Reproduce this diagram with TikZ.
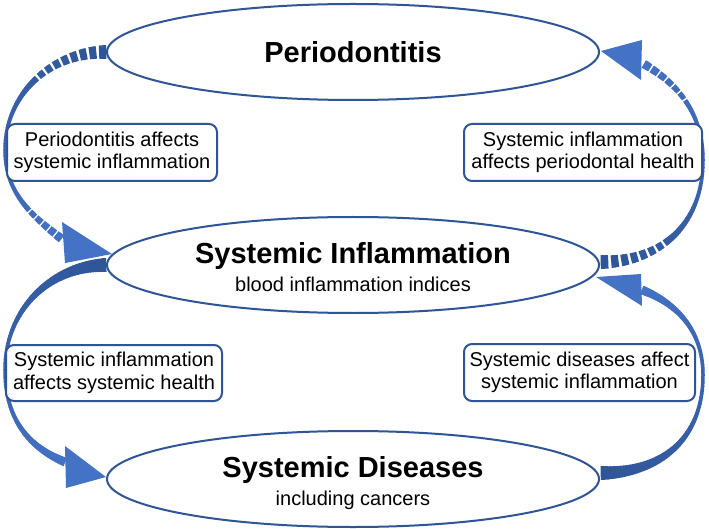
\documentclass[tikz,border=0pt]{standalone}
\usepackage{fontspec}
\setmainfont{Liberation Sans}
\usetikzlibrary{shapes.geometric,calc}
\definecolor{edgeblue}{RGB}{47,85,151}
\definecolor{adark}{RGB}{47,85,151}
\definecolor{alight}{RGB}{68,114,196}
\pgfdeclarelayer{paperlayer}
\pgfdeclarelayer{arrowlayer}
\pgfsetlayers{paperlayer,arrowlayer,main}

% tapered, colour-graded curved arrow along two cubic pieces
% #1 prefix, #2 dashes while k<#2, #3 dashes while k>=#3
\newcommand\taperarrow[3]{%
  \foreach \k in {0,...,50}{%
    \pgfmathsetmacro\tpos{\k/50}%
    \path (#1a0) .. controls (#1a1) and (#1a2) .. (#1m) coordinate[pos=\tpos] (#1s\k);%
  }%
  \foreach \k in {1,...,50}{%
    \pgfmathsetmacro\tpos{\k/50}%
    \pgfmathtruncatemacro\kk{\k+50}%
    \path (#1m) .. controls (#1b1) and (#1b2) .. (#1e) coordinate[pos=\tpos] (#1s\kk);%
  }%
  \foreach \k in {0,...,99}{%
    \pgfmathtruncatemacro\kn{\k+1}%
    \pgfmathsetmacro\tpar{(\k+0.5)/100}%
    \pgfmathsetmacro\wid{\tpar<0.5 ? 3.5+10.5*(1-2*\tpar)^2 : 3.5+5.5*(2*\tpar-1)^2}%
    \pgfmathtruncatemacro\mixp{100*(1-\tpar)}%
    \pgfmathtruncatemacro\dashon{ifthenelse(\k<#2, mod(\k,3)<2, ifthenelse(\k>=#3, mod(\k,4)<3, 1))}%
    \ifnum\dashon=1
      \draw[line width=\wid pt, draw=adark!\mixp!alight, shorten <=-0.3pt, shorten >=-0.3pt] (#1s\k) -- (#1s\kn);%
    \fi
  }%
  \fill[alight] (#1h1) -- (#1tip) -- (#1h2) -- cycle;%
}

\begin{document}
\begin{tikzpicture}[x=1pt,y=-1pt,
  ell/.style={ellipse, draw=edgeblue, line width=2pt, fill=white,
    minimum width=492pt, minimum height=96pt, inner sep=0pt},
  ttl/.style={font=\fontsize{29}{33}\selectfont\bfseries, anchor=base, inner sep=0pt},
  sub/.style={font=\fontsize{20}{23}\selectfont, anchor=base, inner sep=0pt},
  lbl/.style={draw=edgeblue, line width=2pt, rounded corners=8pt, fill=white,
    align=center, font=\fontsize{20}{22.5}\selectfont, inner sep=0pt}]
\begin{pgfonlayer}{paperlayer}
\fill[white] (0,0) rectangle (709,529);
\end{pgfonlayer}
\useasboundingbox (0,0) rectangle (709,529);

% main ellipses
\node[ell] (per) at (353,52) {};
\node[ell] (inf) at (353,265) {};
\node[ell] (dis) at (353,479) {};

\node[ttl] (pert) at (353,63) {Periodontitis};
\node[ttl] (inft) at (353,263) {Systemic Inflammation};
\node[sub] (infs) at (353,291) {blood inflammation indices};
\node[ttl] (dist) at (353,477) {Systemic Diseases};
\node[sub] (diss) at (353,505) {including cancers};

% label boxes
\node[lbl, minimum width=210pt, minimum height=57pt] (lab1) at (112,152.5) {Periodontitis affects\\systemic inflammation};
\node[lbl, minimum width=238pt, minimum height=57pt] (lab2) at (583,152.5) {Systemic inflammation\\affects periodontal health};
\node[lbl, minimum width=216pt, minimum height=56pt] (lab3) at (114,373) {Systemic inflammation\\affects systemic health};
\node[lbl, minimum width=231pt, minimum height=57pt] (lab4) at (579.5,372.5) {Systemic diseases affect\\systemic inflammation};

% arrow geometry
\coordinate (TLa0) at (per.west);
\coordinate (TLa1) at (50,52);
\coordinate (TLa2) at (5,95);
\coordinate (TLm) at (5,150);
\coordinate (TLb1) at (5,195);
\coordinate (TLb2) at (35,218);
\coordinate (TLe) at (63,240);
\coordinate (TLtip) at (112,254);
\coordinate (TLh1) at (62,222);
\coordinate (TLh2) at (65,263);

\coordinate (BLa0) at (inf.west);
\coordinate (BLa1) at (50,266);
\coordinate (BLa2) at (5,310);
\coordinate (BLm) at (5,370);
\coordinate (BLb1) at (5,420);
\coordinate (BLb2) at (30,448);
\coordinate (BLe) at (65,462);
\coordinate (BLtip) at ($(dis.west)+(0,-2)$);
\coordinate (BLh1) at (65,446);
\coordinate (BLh2) at (66,488);

\coordinate (TRa0) at ($(inf.east)+(1,-3)$);
\coordinate (TRa1) at (660,262);
\coordinate (TRa2) at (703,225);
\coordinate (TRm) at (703,160);
\coordinate (TRb1) at (703,112);
\coordinate (TRb2) at (676,82);
\coordinate (TRe) at (642,63);
\coordinate (TRtip) at (601,51);
\coordinate (TRh1) at (642,40);
\coordinate (TRh2) at (641,80);

\coordinate (BRa0) at ($(dis.east)+(1,-6)$);
\coordinate (BRa1) at (660,473);
\coordinate (BRa2) at (703,440);
\coordinate (BRm) at (703,375);
\coordinate (BRb1) at (703,330);
\coordinate (BRb2) at (676,303);
\coordinate (BRe) at (642,290);
\coordinate (BRtip) at (596,277);
\coordinate (BRh1) at (641,274);
\coordinate (BRh2) at (642,306);

\begin{pgfonlayer}{arrowlayer}
\taperarrow{TL}{26}{76}
\taperarrow{BL}{0}{101}
\taperarrow{TR}{22}{75}
\taperarrow{BR}{0}{101}
\end{pgfonlayer}
\end{tikzpicture}
\end{document}
